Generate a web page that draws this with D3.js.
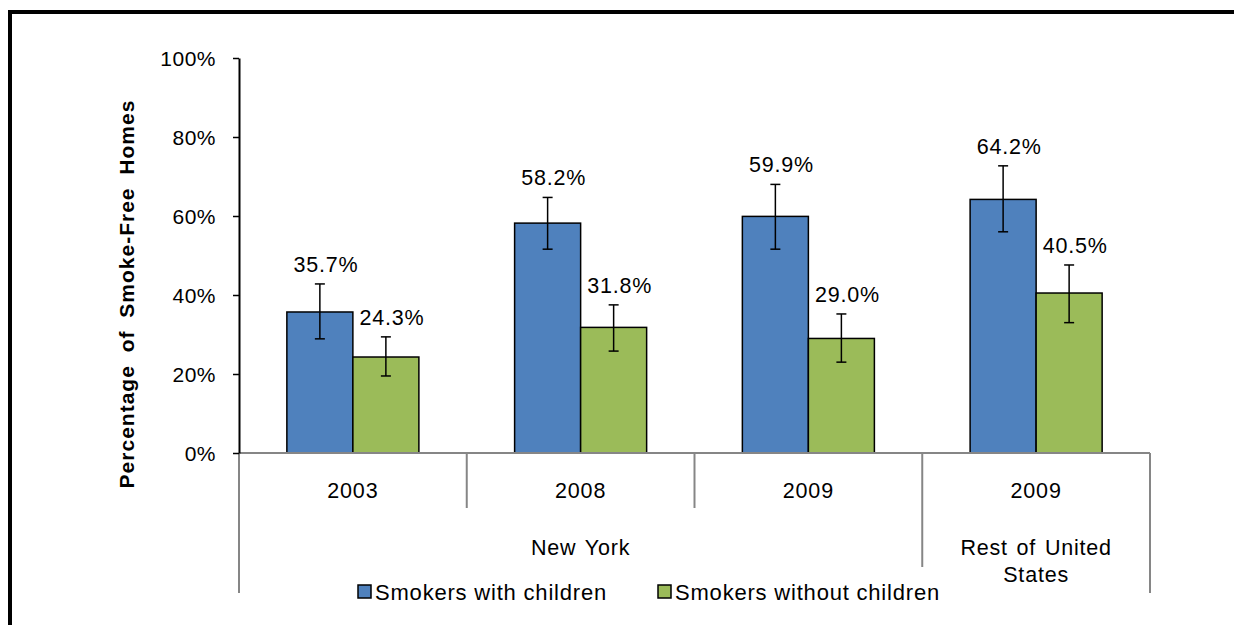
<!DOCTYPE html>
<html><head><meta charset="utf-8">
<script src="https://cdn.jsdelivr.net/npm/d3@7"></script>
<style>
body{margin:0;background:#fff;}
svg{display:block;font-family:"Liberation Sans",Arial,sans-serif;}
</style></head>
<body><svg id="chart" width="1234" height="625"></svg>
<script>
const years = ["2003","2008","2009","2009"];
const regionLabels = [["New York"],["Rest of United","States"]];
const regionSpans = [3,1];
const seriesNames = ["Smokers with children","Smokers without children"];
const withChildren = [35.7,58.2,59.9,64.2];
const withChildrenLow = [28.9,51.6,51.6,56.0];
const withChildrenHigh = [42.8,64.7,68.0,72.7];
const withoutChildren = [24.3,31.8,29.0,40.5];
const withoutChildrenLow = [19.5,25.8,23.0,33.0];
const withoutChildrenHigh = [29.4,37.5,35.2,47.6];
const yTicks = [0,20,40,60,80,100];
const colors = ["#4F81BD","#9BBB59"];

(function(){
const svg = d3.select("#chart");
const pLeft=239,pRight=1150,pTop=58,pBottom=453;
const gray="#868686";

// frame
svg.append("line").attr("x1",8).attr("x2",1234).attr("y1",12).attr("y2",12).attr("stroke","#000").attr("stroke-width",4);
svg.append("line").attr("x1",10).attr("x2",10).attr("y1",10).attr("y2",625).attr("stroke","#000").attr("stroke-width",4);

const idx = d3.range(years.length);
const x = d3.scaleBand().domain(idx).range([pLeft,pRight]).paddingInner(0).paddingOuter(0);
const xs = d3.scaleBand().domain([0,1]).range([0,x.bandwidth()]).paddingInner(0).paddingOuter(0.725);
const y = d3.scaleLinear().domain([0,100]).range([pBottom,pTop]);

const series = [
  {vals:withChildren,lo:withChildrenLow,hi:withChildrenHigh},
  {vals:withoutChildren,lo:withoutChildrenLow,hi:withoutChildrenHigh}
];

// bars
series.forEach((s,si)=>{
  const g = svg.append("g");
  g.selectAll("rect").data(idx).join("rect")
    .attr("x",i=>x(i)+xs(si)).attr("width",xs.bandwidth())
    .attr("y",i=>y(s.vals[i])).attr("height",i=>y(0)-y(s.vals[i]))
    .attr("fill",colors[si]).attr("stroke","#000").attr("stroke-width",1.5);
});

// x axis line & separators
svg.append("line").attr("x1",pLeft).attr("x2",pRight).attr("y1",pBottom).attr("y2",pBottom).attr("stroke",gray).attr("stroke-width",2);
const bounds = d3.range(years.length+1).map(i=> i<years.length ? x(i) : pRight);
const regionEnds = Array.from(d3.cumsum(regionSpans));
bounds.forEach((bx,i)=>{
  let yEnd = 508;
  if(i===0 || i===years.length) yEnd = 593;
  else if(regionEnds.includes(i)) yEnd = 567;
  svg.append("line").attr("x1",bx).attr("x2",bx).attr("y1",pBottom).attr("y2",yEnd).attr("stroke",gray).attr("stroke-width",2);
});

// y axis
const yAxis = d3.axisLeft(y).tickValues(yTicks).tickFormat(d=>d+"%").tickSize(6).tickSizeOuter(0);
const ya = svg.append("g").attr("transform",`translate(${pLeft},0)`).call(yAxis);
ya.select(".domain").attr("stroke","#000").attr("stroke-width",2);
ya.selectAll(".tick line").attr("stroke","#000").attr("stroke-width",1.5);
ya.selectAll(".tick text").attr("x",-23).attr("dy","0.36em").attr("font-size",21).attr("letter-spacing","0.5px").attr("fill","#000").attr("font-family","Liberation Sans, Arial, sans-serif");

// error bars and labels
series.forEach((s,si)=>{
  const g = svg.append("g").attr("stroke","#000").attr("stroke-width",1.5);
  idx.forEach(i=>{
    const cx = x(i)+xs(si)+xs.bandwidth()/2;
    g.append("line").attr("x1",cx).attr("x2",cx).attr("y1",y(s.lo[i])).attr("y2",y(s.hi[i]));
    g.append("line").attr("x1",cx-5).attr("x2",cx+5).attr("y1",y(s.lo[i])).attr("y2",y(s.lo[i]));
    g.append("line").attr("x1",cx-5).attr("x2",cx+5).attr("y1",y(s.hi[i])).attr("y2",y(s.hi[i]));
    svg.append("text").attr("x",cx+6).attr("y",y(s.hi[i])-12).attr("text-anchor","middle")
      .attr("font-size",21.5).attr("letter-spacing","0.8px").text(s.vals[i].toFixed(1)+"%");
  });
});

// category labels
idx.forEach(i=>{
  svg.append("text").attr("x",x(i)+x.bandwidth()/2).attr("y",498).attr("text-anchor","middle")
    .attr("font-size",21.5).attr("letter-spacing","0.8px").text(years[i]);
});
let start=0;
regionLabels.forEach((lines,ri)=>{
  const x0 = bounds[start], x1 = bounds[start+regionSpans[ri]];
  const cx=(x0+x1)/2;
  lines.forEach((ln,li)=>{
    svg.append("text").attr("x",cx).attr("y",555+li*27).attr("text-anchor","middle")
      .attr("font-size",21.5).attr("letter-spacing","0.8px").attr("word-spacing","2px").text(ln);
  });
  start+=regionSpans[ri];
});

// y title
svg.append("text").attr("transform","translate(134,294) rotate(-90)").attr("text-anchor","middle")
  .attr("font-size",21).attr("font-weight","bold").attr("letter-spacing","1px").attr("word-spacing","6px")
  .text("Percentage of Smoke-Free Homes");

// legend
const legX=[358,658];
seriesNames.forEach((n,si)=>{
  svg.append("rect").attr("x",legX[si]).attr("y",585).attr("width",13).attr("height",13)
    .attr("fill",colors[si]).attr("stroke","#000").attr("stroke-width",1.5);
  svg.append("text").attr("x",legX[si]+17).attr("y",600).attr("font-size",22).attr("letter-spacing","0.8px").text(n);
});
})();
</script></body></html>
